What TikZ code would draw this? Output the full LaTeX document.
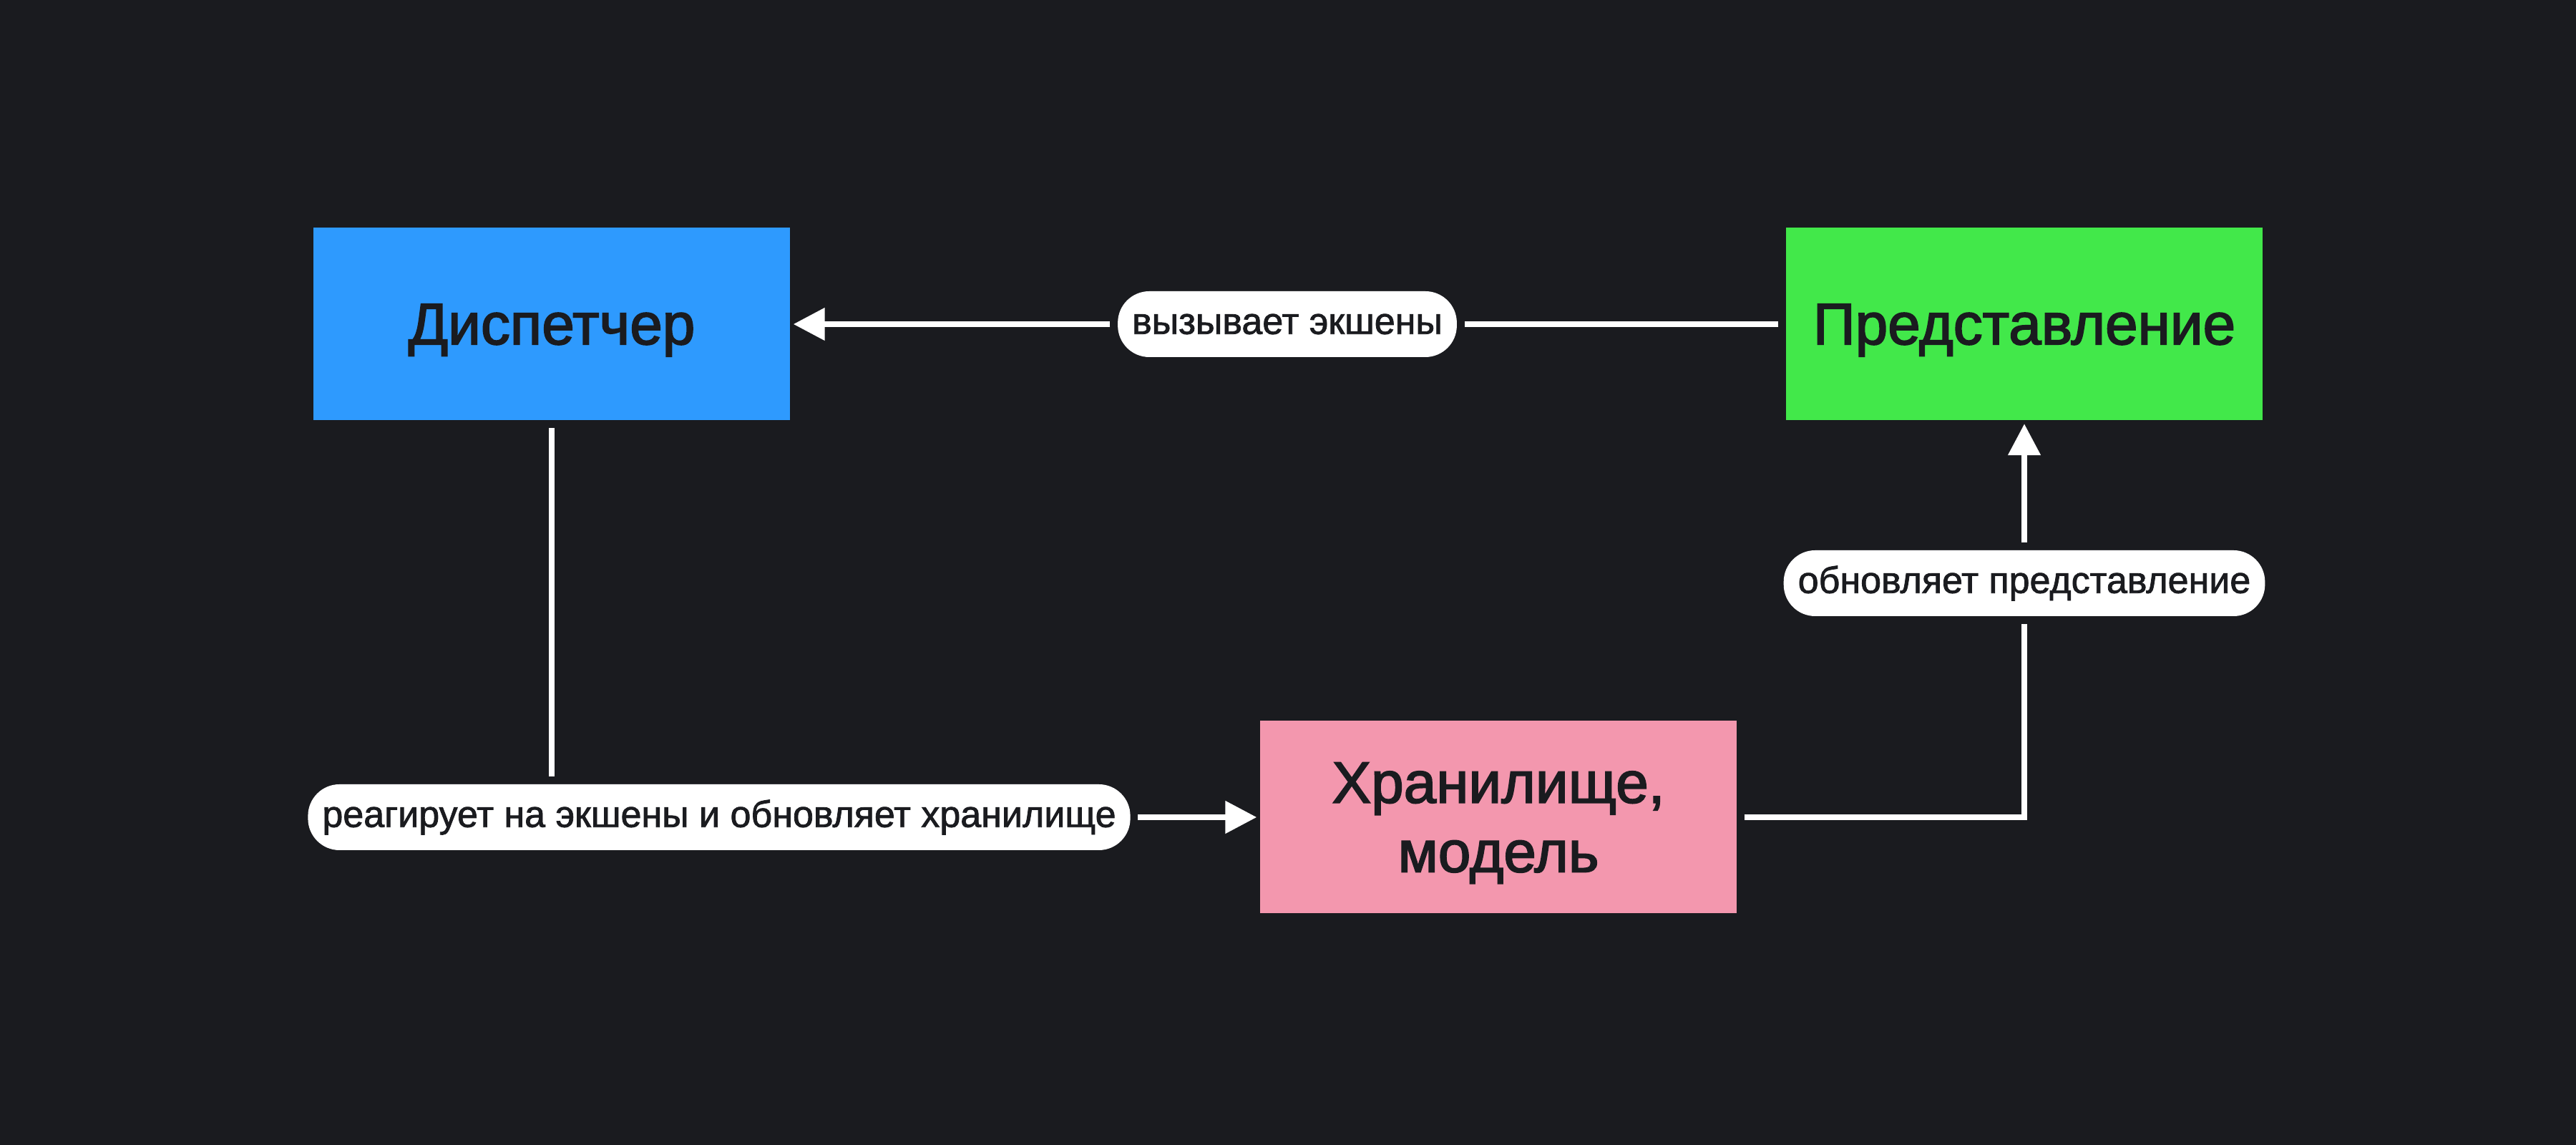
\documentclass[tikz,border=0pt]{standalone}
\usepackage{fontspec}
\setmainfont{Liberation Sans}[FakeBold=1.5]
\newfontfamily\heavyfont{Liberation Sans}[FakeBold=2.2]
\usetikzlibrary{arrows.meta,positioning}
\definecolor{fluxbg}{HTML}{1A1B1F}
\definecolor{fluxblue}{HTML}{2E9AFE}
\definecolor{fluxgreen}{HTML}{42E84A}
\definecolor{fluxpink}{HTML}{F397AE}
\definecolor{fluxink}{HTML}{1A1B1F}

\begin{document}
\begin{tikzpicture}[
    block/.style={rectangle, minimum width=6.66cm, minimum height=2.69cm, inner sep=0pt,
      text=fluxink, align=center, text depth=0pt, font=\heavyfont\fontsize{23.3}{27.5}\selectfont},
    wire/.style={draw=white, line width=0.08cm, shorten <=0.1cm, shorten >=0.1cm},
    flow/.style={wire, -{Triangle[length=0.44cm, width=0.44cm]}, shorten >=0.04cm},
    pill/.style={rectangle, rounded corners=0.44cm, fill=white, text=fluxink,
      minimum height=0.92cm, inner xsep=0.2cm, inner ysep=0pt,
      font=\fontsize{14.8}{17}\selectfont},
  ]
  \fill[fluxbg] (0,0) rectangle (36,16);

  % ---- the three parts of the loop
  \node[block, fill=fluxblue]  (disp)  at (7.71,11.47) {Диспетчер};
  \node[block, fill=fluxgreen] (view)  at (28.29,11.47) {Представление};
  \node[block, fill=fluxpink]  (store) at (20.94,4.58) {Хранилище,\\модель};

  % ---- labels sitting on the connectors
  \node[pill] (act)   at (17.99,11.47) {вызывает экшены};
  \node[pill] (react) at (10.05,4.58)  {реагирует на экшены и обновляет хранилище};
  \node[pill] (upd)   at (28.29,7.85)  {обновляет представление};

  % ---- view calls actions on the dispatcher
  \draw[wire] (view.west) -- (act.east);
  \draw[flow] (act.west) -- (disp.east);

  % ---- dispatcher updates the store
  \draw[wire] (disp.south) -- (disp.south |- react.north);
  \draw[flow] (react.east) -- (store.west);

  % ---- store updates the view
  \draw[wire] (store.east) -- (store.east -| upd) -- (upd.south);
  \draw[flow] (upd.north) -- (view.south);

\end{tikzpicture}
\end{document}
